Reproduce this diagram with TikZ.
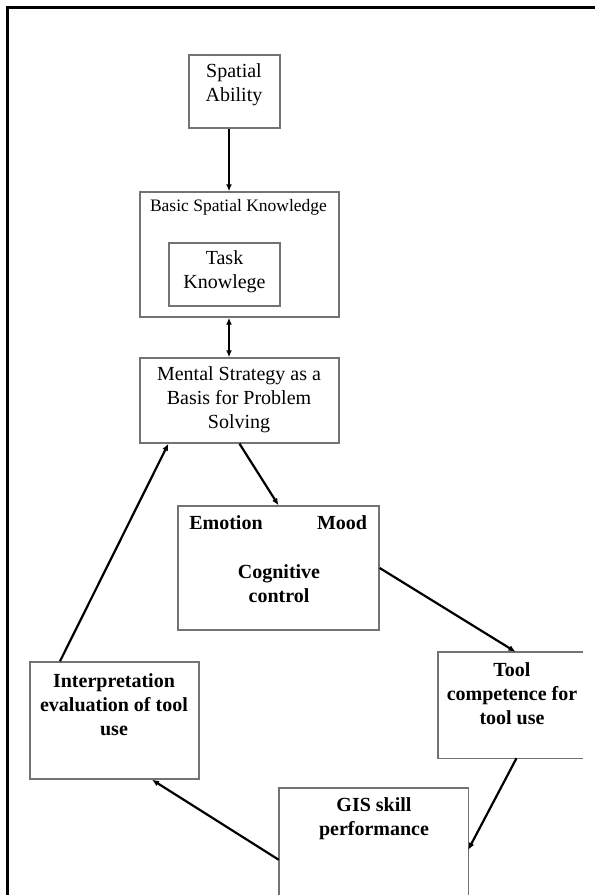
\documentclass[tikz,border=0pt]{standalone}
\usepackage{fontspec}
\setmainfont{Liberation Serif}
\usetikzlibrary{arrows.meta,calc}

\tikzset{
  frameline/.style={line width=3pt, black},
  boxline/.style={line width=1.4pt, draw={rgb,255:red,115;green,115;blue,115}},
  box/.style={boxline, rectangle, inner sep=0pt},
  openbox/.style={rectangle, inner sep=0pt, draw=none},
  txt/.style={align=center, inner sep=0pt, font=\fontsize{20}{24}\selectfont},
  btxt/.style={align=center, inner sep=0pt, font=\fontsize{20}{24}\selectfont\bfseries},
  link/.style={line width=2.2pt, black, -{Latex[length=7pt,width=6pt]}},
  duallink/.style={line width=2.2pt, black, {Latex[length=7pt,width=6pt]}-{Latex[length=7pt,width=6pt]}},
}

\begin{document}
\begin{tikzpicture}[x=1pt, y=-1pt]
  \useasboundingbox (0,0) rectangle (595,895);
  \fill[white] (0,0) rectangle (595,895);

  % outer frame (top and left edges)
  \draw[frameline] (595,7.5) -- (7.5,7.5) -- (7.5,895);

  % boxes
  \node[box, minimum width=91pt,  minimum height=73pt]  (spatial) at (234.5,91.5) {};
  \node[box, minimum width=199pt, minimum height=125pt] (basic)   at (239.5,254.5) {};
  \node[box, minimum width=111pt, minimum height=63pt]  (task)    at (224.5,274.5) {};
  \node[box, minimum width=199pt, minimum height=85pt]  (mental)  at (239.5,400.5) {};
  \node[box, minimum width=201pt, minimum height=124pt] (emotion) at (278.5,568) {};
  \node[box, minimum width=169pt, minimum height=117pt] (interp)  at (114.5,720.5) {};
  \node[openbox, minimum width=145pt, minimum height=106pt] (tool) at (510.5,705) {};
  \node[openbox, minimum width=189pt, minimum height=110pt] (gis)  at (373.5,843) {};

  % open-sided boxes
  \draw[boxline] (tool.north east) -- (tool.north west) -- (tool.south west) -- (tool.south east);
  \draw[boxline] (gis.south west) -- (gis.north west) -- (gis.north east) -- (gis.south east);

  % texts
  \node[txt] (tSpatial) at (234,85) {Spatial\\Ability};
  \node[align=center, inner sep=0pt, font=\fontsize{17.5}{21}\selectfont] (tBasic) at (238.5,207) {Basic Spatial Knowledge};
  \node[txt] (tTask) at (224.5,272) {Task\\Knowlege};
  \node[txt] (tMental) at (239,400) {Mental Strategy as a\\Basis for Problem\\Solving};
  \node[btxt] (tEmotion) at (226,523) {Emotion};
  \node[btxt] (tMood) at (342,523) {Mood};
  \node[btxt] (tCog) at (279,583.5) {Cognitive\\control};
  \node[btxt] (tInterp) at (114,705) {Interpretation\\evaluation of tool\\use};
  \node[btxt] (tTool) at (512,693.5) {Tool\\competence for\\tool use};
  \node[btxt] (tGis) at (374,818.5) {GIS skill\\performance};

  % connectors
  \draw[link] ([xshift=-5.5pt]spatial.south) -- ([xshift=-5.5pt]spatial.south |- basic.north);
  \draw[duallink] ([xshift=-10.5pt]basic.south) -- ([xshift=-10.5pt]mental.north);
  \draw[link] (mental.south) -- (emotion.north);
  \draw[link] (emotion.east) -- ([xshift=5pt]tool.north);
  \draw[link] ([xshift=6pt]tool.south) -- ([yshift=-62pt]gis.north east);
  \draw[link] ([yshift=-72pt]gis.north west) -- ($(interp.south west)!0.72!(interp.south east)$);
  \draw[link] ($(interp.north west)!0.18!(interp.north east)$) -- ($(mental.south west)!0.145!(mental.south east)$);
\end{tikzpicture}
\end{document}
